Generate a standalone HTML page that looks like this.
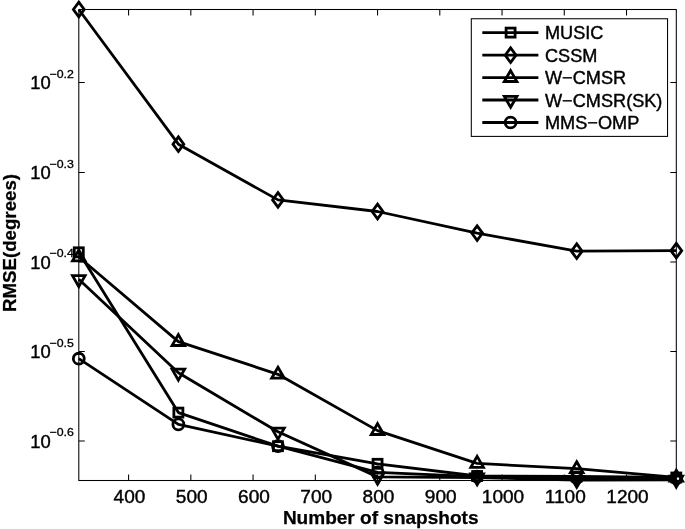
<!DOCTYPE html>
<html><head><meta charset="utf-8"><title>RMSE vs snapshots</title>
<style>
html,body{margin:0;padding:0;background:#fff;}
body{width:685px;height:529px;overflow:hidden;}
svg{display:block;}
text{font-family:"Liberation Sans",sans-serif;fill:#000;}
.t{font-size:18.4px;stroke:#000;stroke-width:0.4px;}
.s{font-size:11px;stroke:#000;stroke-width:0.3px;}
.b{font-size:18.7px;font-weight:bold;stroke:#000;stroke-width:0.25px;}
.ax{stroke:#000;stroke-width:1.05;fill:none;}
.ln{stroke:#000;stroke-width:2.8;fill:none;stroke-linejoin:round;}
.mk{stroke:#000;stroke-width:2.8;fill:none;stroke-linejoin:miter;}
</style></head><body>
<svg width="685" height="529" viewBox="0 0 685 529">
<rect width="685" height="529" fill="#fff"/>
<rect class="ax" x="78.8" y="9.5" width="597.50" height="471.00"/>
<path class="ax" d="M128.59 480.5v-6M128.59 9.5v6M190.83 480.5v-6M190.83 9.5v6M253.07 480.5v-6M253.07 9.5v6M315.31 480.5v-6M315.31 9.5v6M377.55 480.5v-6M377.55 9.5v6M439.79 480.5v-6M439.79 9.5v6M502.03 480.5v-6M502.03 9.5v6M564.27 480.5v-6M564.27 9.5v6M626.51 480.5v-6M626.51 9.5v6M78.8 82.5h6M676.3 82.5h-6M78.8 172.4h6M676.3 172.4h-6M78.8 261.9h6M676.3 261.9h-6M78.8 351.5h6M676.3 351.5h-6M78.8 441.0h6M676.3 441.0h-6"/>
<text class="t" transform="translate(129.49 502.6) scale(1.035 1)" text-anchor="middle">400</text>
<text class="t" transform="translate(191.73 502.6) scale(1.035 1)" text-anchor="middle">500</text>
<text class="t" transform="translate(253.97 502.6) scale(1.035 1)" text-anchor="middle">600</text>
<text class="t" transform="translate(316.21 502.6) scale(1.035 1)" text-anchor="middle">700</text>
<text class="t" transform="translate(378.45 502.6) scale(1.035 1)" text-anchor="middle">800</text>
<text class="t" transform="translate(440.69 502.6) scale(1.035 1)" text-anchor="middle">900</text>
<text class="t" transform="translate(503.03 502.6) scale(1.035 1)" text-anchor="middle">1000</text>
<text class="t" transform="translate(565.27 502.6) scale(1.035 1)" text-anchor="middle">1100</text>
<text class="t" transform="translate(627.51 502.6) scale(1.035 1)" text-anchor="middle">1200</text>
<text class="t" x="30.3" y="89.20">10</text><text class="s" transform="translate(49.6 78.05) scale(1.12 1)">−0.2</text>
<text class="t" x="30.3" y="178.80">10</text><text class="s" transform="translate(49.6 167.65) scale(1.12 1)">−0.3</text>
<text class="t" x="30.3" y="268.60">10</text><text class="s" transform="translate(49.6 257.45) scale(1.12 1)">−0.4</text>
<text class="t" x="30.3" y="358.00">10</text><text class="s" transform="translate(49.6 346.85) scale(1.12 1)">−0.5</text>
<text class="t" x="30.3" y="447.50">10</text><text class="s" transform="translate(49.6 436.35) scale(1.12 1)">−0.6</text>
<text class="b" style="font-size:19.05px" x="380.7" y="524.4" text-anchor="middle">Number of snapshots</text>
<text class="b" transform="translate(15.9 243.0) rotate(-90)" text-anchor="middle">RMSE(degrees)</text>
<polyline class="ln" points="78.80,252.30 178.38,412.60 277.97,446.20 377.55,463.80 477.13,476.00 576.72,476.50 676.30,477.50"/>
<g class="mk"><rect x="74.30" y="247.80" width="9" height="9"/><rect x="173.88" y="408.10" width="9" height="9"/><rect x="273.47" y="441.70" width="9" height="9"/><rect x="373.05" y="459.30" width="9" height="9"/><rect x="472.63" y="471.50" width="9" height="9"/><rect x="572.22" y="472.00" width="9" height="9"/><rect x="671.80" y="473.00" width="9" height="9"/></g>
<polyline class="ln" points="78.80,9.50 178.38,144.20 277.97,199.90 377.55,211.50 477.13,233.10 576.72,251.20 676.30,250.70"/>
<g class="mk"><path d="M78.80 2.20L84.20 9.50L78.80 16.80L73.40 9.50Z"/><path d="M178.38 136.90L183.78 144.20L178.38 151.50L172.98 144.20Z"/><path d="M277.97 192.60L283.37 199.90L277.97 207.20L272.57 199.90Z"/><path d="M377.55 204.20L382.95 211.50L377.55 218.80L372.15 211.50Z"/><path d="M477.13 225.80L482.53 233.10L477.13 240.40L471.73 233.10Z"/><path d="M576.72 243.90L582.12 251.20L576.72 258.50L571.32 251.20Z"/><path d="M676.30 243.40L681.70 250.70L676.30 258.00L670.90 250.70Z"/></g>
<polyline class="ln" points="78.80,257.00 178.38,341.60 277.97,374.30 377.55,430.60 477.13,463.40 576.72,468.70 676.30,477.30"/>
<g class="mk"><path d="M78.80 250.00L85.10 260.90L72.50 260.90Z"/><path d="M178.38 334.60L184.68 345.50L172.08 345.50Z"/><path d="M277.97 367.30L284.27 378.20L271.67 378.20Z"/><path d="M377.55 423.60L383.85 434.50L371.25 434.50Z"/><path d="M477.13 456.40L483.43 467.30L470.83 467.30Z"/><path d="M576.72 461.70L583.02 472.60L570.42 472.60Z"/><path d="M676.30 470.30L682.60 481.20L670.00 481.20Z"/></g>
<polyline class="ln" points="78.80,279.30 178.38,372.80 277.97,431.80 377.55,476.90 477.13,477.50 576.72,480.00 676.30,479.80"/>
<g class="mk"><path d="M78.80 286.60L85.10 275.60L72.50 275.60Z"/><path d="M178.38 380.10L184.68 369.10L172.08 369.10Z"/><path d="M277.97 439.10L284.27 428.10L271.67 428.10Z"/><path d="M377.55 484.20L383.85 473.20L371.25 473.20Z"/><path d="M477.13 484.80L483.43 473.80L470.83 473.80Z"/><path d="M576.72 487.30L583.02 476.30L570.42 476.30Z"/><path d="M676.30 487.10L682.60 476.10L670.00 476.10Z"/></g>
<polyline class="ln" points="78.80,358.70 178.38,424.40 277.97,446.10 377.55,472.40 477.13,476.60 576.72,478.00 676.30,478.50"/>
<g class="mk"><circle cx="78.80" cy="358.70" r="5.45"/><circle cx="178.38" cy="424.40" r="5.45"/><circle cx="277.97" cy="446.10" r="5.45"/><circle cx="377.55" cy="472.40" r="5.45"/><circle cx="477.13" cy="476.60" r="5.45"/><circle cx="576.72" cy="478.00" r="5.45"/><circle cx="676.30" cy="478.50" r="5.45"/></g>
<rect class="ax" x="471.3" y="18.75" width="196.25" height="117.65" fill="#fff" style="fill:#fff"/>
<path class="ln" d="M482.3 32.6H538.4"/><g class="mk"><rect x="506.10" y="28.10" width="9" height="9"/></g>
<text class="t" style="font-size:18.15px" x="545" y="39.10">MUSIC</text>
<path class="ln" d="M482.3 55.2H538.4"/><g class="mk"><path d="M510.60 47.90L516.00 55.20L510.60 62.50L505.20 55.20Z"/></g>
<text class="t" style="font-size:18.15px" x="545" y="61.70">CSSM</text>
<path class="ln" d="M482.3 77.6H538.4"/><g class="mk"><path d="M510.60 70.60L516.90 81.50L504.30 81.50Z"/></g>
<text class="t" style="font-size:18.15px" x="545" y="84.10">W−CMSR</text>
<path class="ln" d="M482.3 100.0H538.4"/><g class="mk"><path d="M510.60 107.30L516.90 96.30L504.30 96.30Z"/></g>
<text class="t" style="font-size:18.15px" x="545" y="106.50">W−CMSR(SK)</text>
<path class="ln" d="M482.3 122.5H538.4"/><g class="mk"><circle cx="510.60" cy="122.50" r="5.45"/></g>
<text class="t" style="font-size:18.15px" x="545" y="129.00">MMS−OMP</text>
</svg></body></html>
